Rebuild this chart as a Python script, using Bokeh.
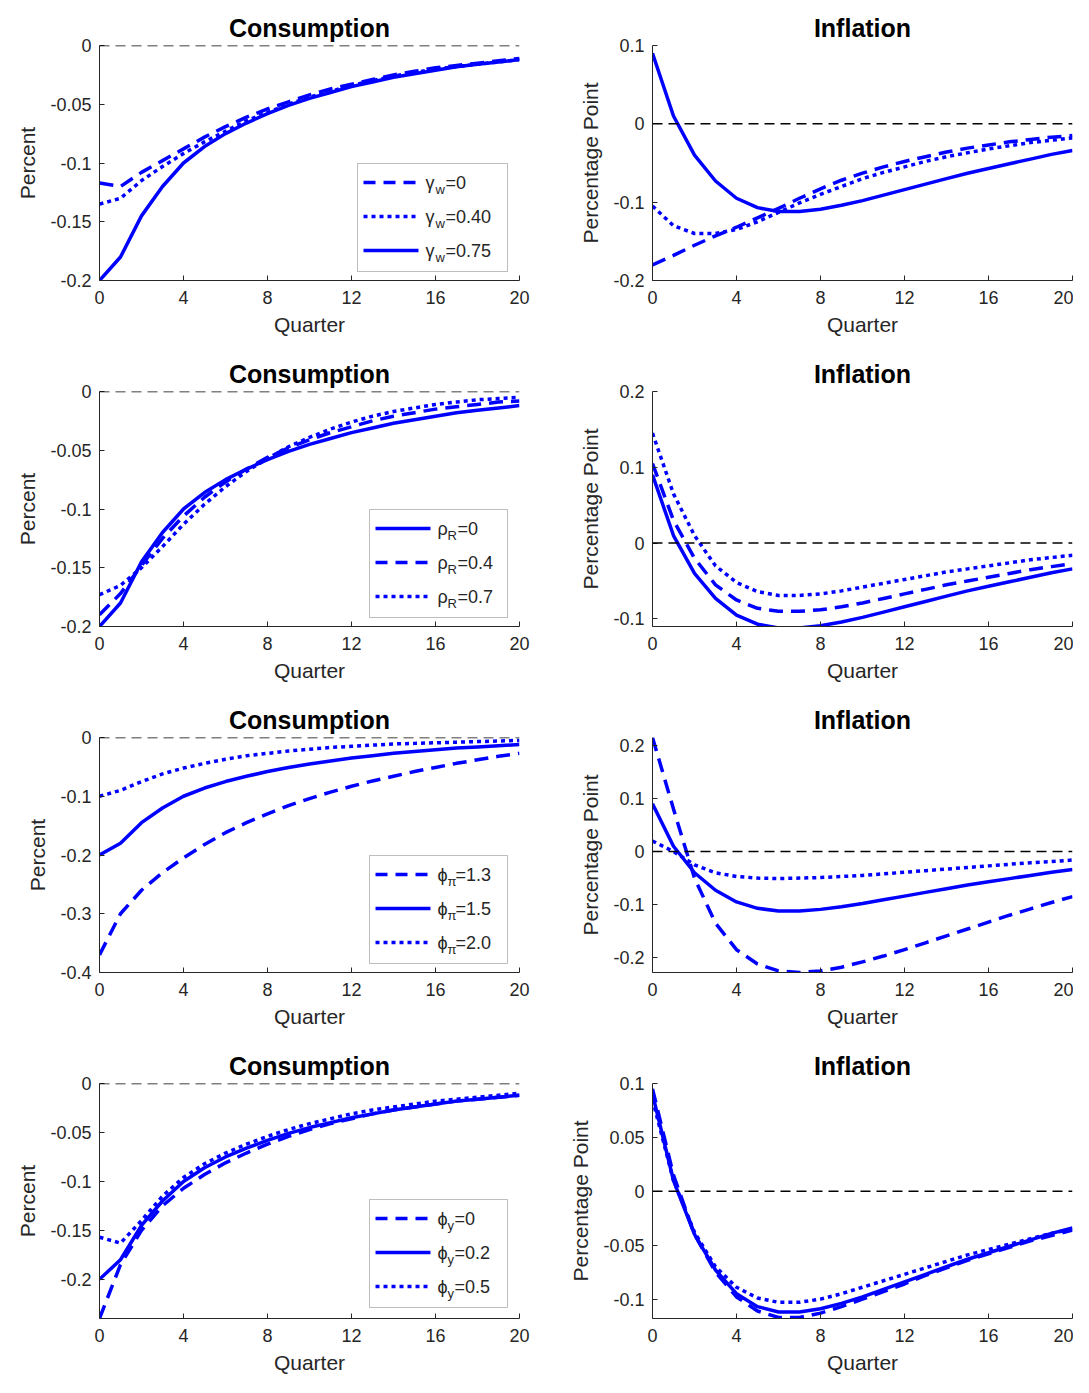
from bokeh.plotting import figure
from bokeh.layouts import gridplot
from bokeh.models import Range1d, FixedTicker, Span, Label, Arrow, BoxAnnotation
from bokeh.embed import file_html
from bokeh.resources import INLINE

quarters = list(range(21))

# baseline (solid in most panels)
c_base = [-0.2, -0.18, -0.145, -0.12, -0.1, -0.086, -0.075, -0.066, -0.058, -0.051, -0.045,
          -0.04, -0.035, -0.031, -0.027, -0.024, -0.021, -0.018, -0.016, -0.014, -0.012]
pi_base = [0.09, 0.01, -0.04, -0.073, -0.095, -0.107, -0.112, -0.112, -0.109, -0.104, -0.098,
           -0.091, -0.084, -0.077, -0.07, -0.063, -0.057, -0.051, -0.045, -0.039, -0.034]

# row 1: gamma_w
c_gw0 = [-0.117, -0.12, -0.108, -0.098, -0.088, -0.078, -0.069, -0.061, -0.054, -0.048, -0.042,
         -0.037, -0.033, -0.029, -0.025, -0.022, -0.019, -0.017, -0.015, -0.013, -0.011]
c_gw40 = [-0.135, -0.13, -0.115, -0.103, -0.092, -0.082, -0.073, -0.064, -0.057, -0.05, -0.044,
          -0.039, -0.034, -0.03, -0.026, -0.023, -0.02, -0.018, -0.016, -0.014, -0.012]
pi_gw0 = [-0.18, -0.168, -0.155, -0.143, -0.132, -0.12, -0.108, -0.095, -0.083, -0.072, -0.063,
          -0.055, -0.048, -0.042, -0.036, -0.031, -0.027, -0.023, -0.02, -0.017, -0.015]
pi_gw40 = [-0.105, -0.13, -0.14, -0.14, -0.135, -0.125, -0.113, -0.101, -0.09, -0.08, -0.07,
           -0.062, -0.055, -0.048, -0.042, -0.037, -0.032, -0.028, -0.024, -0.021, -0.018]

# row 2: rho_R
c_r4 = [-0.19, -0.172, -0.148, -0.125, -0.106, -0.09, -0.077, -0.066, -0.056, -0.048, -0.041,
        -0.035, -0.03, -0.025, -0.021, -0.018, -0.015, -0.013, -0.011, -0.009, -0.008]
c_r7 = [-0.173, -0.165, -0.15, -0.132, -0.113, -0.096, -0.081, -0.068, -0.057, -0.047, -0.039,
        -0.032, -0.026, -0.021, -0.017, -0.014, -0.011, -0.009, -0.007, -0.006, -0.005]
pi_r4 = [0.105, 0.03, -0.02, -0.055, -0.075, -0.086, -0.09, -0.09, -0.088, -0.084, -0.079,
         -0.073, -0.067, -0.061, -0.055, -0.05, -0.045, -0.04, -0.035, -0.031, -0.027]
pi_r7 = [0.145, 0.065, 0.01, -0.03, -0.052, -0.064, -0.069, -0.069, -0.067, -0.063, -0.058,
         -0.053, -0.048, -0.043, -0.038, -0.034, -0.03, -0.026, -0.022, -0.019, -0.016]

# row 3: phi_pi
c_p13 = [-0.37, -0.3, -0.26, -0.23, -0.205, -0.182, -0.162, -0.145, -0.13, -0.116, -0.104,
         -0.093, -0.083, -0.074, -0.066, -0.058, -0.051, -0.044, -0.038, -0.032, -0.027]
c_p20 = [-0.1, -0.09, -0.075, -0.062, -0.052, -0.044, -0.037, -0.031, -0.027, -0.023, -0.02,
         -0.017, -0.015, -0.013, -0.011, -0.01, -0.009, -0.008, -0.007, -0.006, -0.005]
pi_p13 = [0.215, 0.08, -0.05, -0.135, -0.185, -0.212, -0.225, -0.228, -0.225, -0.218, -0.208,
          -0.197, -0.185, -0.172, -0.159, -0.146, -0.133, -0.12, -0.108, -0.096, -0.085]
pi_p20 = [0.02, 0.0, -0.025, -0.04, -0.047, -0.05, -0.051, -0.05, -0.049, -0.047, -0.045,
          -0.042, -0.039, -0.036, -0.033, -0.03, -0.027, -0.024, -0.021, -0.019, -0.016]

# row 4: phi_y
c_y0 = [-0.24, -0.185, -0.15, -0.125, -0.107, -0.093, -0.081, -0.071, -0.062, -0.054, -0.047,
        -0.041, -0.036, -0.031, -0.027, -0.024, -0.021, -0.018, -0.016, -0.014, -0.012]
c_y5 = [-0.157, -0.163, -0.14, -0.115, -0.096, -0.082, -0.071, -0.062, -0.054, -0.047, -0.041,
        -0.036, -0.031, -0.027, -0.024, -0.021, -0.018, -0.016, -0.014, -0.012, -0.01]
pi_y0 = [0.095, 0.015, -0.04, -0.075, -0.098, -0.111, -0.117, -0.117, -0.113, -0.107, -0.1,
         -0.093, -0.086, -0.078, -0.071, -0.064, -0.058, -0.052, -0.046, -0.041, -0.036]
pi_y5 = [0.085, 0.01, -0.038, -0.07, -0.089, -0.099, -0.103, -0.103, -0.1, -0.095, -0.089,
         -0.083, -0.077, -0.071, -0.065, -0.059, -0.054, -0.049, -0.044, -0.039, -0.035]

x_ticks = [0, 4, 8, 12, 16, 20]
BLUE = "#0000ff"
INK = "#262626"
FONT = "Liberation Sans"
DASH = {"solid": "solid", "dashed": "14 8", "dotted": "4 4"}
FW, FH = 420, 235


def tick_label(v):
    if v == 0:
        return "0"
    return ("%.3f" % v).rstrip("0").rstrip(".")


def make_panel(title, ylabel, yr, yticks, series, left):
    p = figure(frame_width=FW, frame_height=FH, output_backend="svg", toolbar_location=None,
               x_range=Range1d(0, 20), y_range=Range1d(*yr),
               min_border_left=99, min_border_right=34 if left else 1,
               min_border_top=45, min_border_bottom=66)
    p.title.text = title
    p.title.align = "center"
    p.title.text_font = FONT
    p.title.text_font_size = "25px"
    p.title.text_font_style = "bold"
    p.title.text_color = "black"
    p.title.standoff = 8
    p.outline_line_color = None
    p.grid.visible = False
    p.xaxis.ticker = FixedTicker(ticks=x_ticks)
    p.yaxis.ticker = FixedTicker(ticks=yticks)
    p.yaxis.major_label_overrides = {t: tick_label(t) for t in yticks}
    p.xaxis.axis_label = "Quarter"
    p.yaxis.axis_label = ylabel
    for ax in (p.xaxis, p.yaxis):
        ax.axis_label_text_font = FONT
        ax.axis_label_text_font_size = "21px"
        ax.axis_label_text_font_style = "normal"
        ax.axis_label_text_color = INK
        ax.major_label_text_font = FONT
        ax.major_label_text_font_size = "18px"
        ax.major_label_text_color = INK
        ax.major_tick_in = 5
        ax.major_tick_out = 0
        ax.minor_tick_line_color = None
        ax.axis_line_color = INK
        ax.major_tick_line_color = INK
    p.xaxis.major_label_standoff = 10
    p.yaxis.major_label_standoff = 8
    p.xaxis.axis_label_standoff = 6
    p.yaxis.axis_label_standoff = 8
    p.add_layout(Span(location=0, dimension="width", line_color="black",
                      line_dash="10 6", line_width=1.5))
    for ys, style in series:
        p.line(quarters, ys, line_color=BLUE, line_width=3.5, line_dash=DASH[style])
    return p


def add_legend(p, yr, box_left, box_top, box_w, items, sub_w):
    # box_left/box_top in pixels relative to the frame's top-left
    def X(px):
        return px / FW * 20

    def Y(py):
        return yr[1] - py / FH * (yr[1] - yr[0])

    box_h = 108
    p.add_layout(BoxAnnotation(left=X(box_left), right=X(box_left + box_w),
                               top=Y(box_top), bottom=Y(box_top + box_h),
                               fill_color="white", fill_alpha=1, line_color=INK,
                               line_width=1, level="overlay"))
    for i, (style, sym, sub, rest) in enumerate(items):
        cy = box_top + 19 + 34 * i
        p.add_layout(Arrow(end=None, x_start=X(box_left + 6), x_end=X(box_left + 61),
                           y_start=Y(cy), y_end=Y(cy), line_color=BLUE, line_width=3.5,
                           line_dash=DASH[style] if style != "dashed" else "12 8",
                           level="overlay"))
        tx = box_left + 68
        p.add_layout(Label(x=X(tx), y=Y(cy), text=sym, text_font=FONT, text_font_size="18px",
                           text_color=INK, text_baseline="middle", level="overlay"))
        p.add_layout(Label(x=X(tx + 10), y=Y(cy + 7), text=sub, text_font=FONT,
                           text_font_size="13px", text_color=INK,
                           text_baseline="middle", level="overlay"))
        p.add_layout(Label(x=X(tx + 10 + sub_w), y=Y(cy), text=rest, text_font=FONT,
                           text_font_size="18px", text_color=INK,
                           text_baseline="middle", level="overlay"))


rows = []

yr = (-0.2, 0)
p = make_panel("Consumption", "Percent", yr, [-0.2, -0.15, -0.1, -0.05, 0],
               [(c_gw0, "dashed"), (c_gw40, "dotted"), (c_base, "solid")], True)
add_legend(p, yr, 258, 118, 150,
           [("dashed", "γ", "w", "=0"), ("dotted", "γ", "w", "=0.40"), ("solid", "γ", "w", "=0.75")], 10)
yr2 = (-0.2, 0.1)
q = make_panel("Inflation", "Percentage Point", yr2, [-0.2, -0.1, 0, 0.1],
               [(pi_gw0, "dashed"), (pi_gw40, "dotted"), (pi_base, "solid")], False)
rows.append([p, q])

yr = (-0.2, 0)
p = make_panel("Consumption", "Percent", yr, [-0.2, -0.15, -0.1, -0.05, 0],
               [(c_base, "solid"), (c_r4, "dashed"), (c_r7, "dotted")], True)
add_legend(p, yr, 270, 118, 138,
           [("solid", "ρ", "R", "=0"), ("dashed", "ρ", "R", "=0.4"), ("dotted", "ρ", "R", "=0.7")], 10)
yr2 = (-0.11, 0.2)
q = make_panel("Inflation", "Percentage Point", yr2, [-0.1, 0, 0.1, 0.2],
               [(pi_base, "solid"), (pi_r4, "dashed"), (pi_r7, "dotted")], False)
rows.append([p, q])

yr = (-0.4, 0)
p = make_panel("Consumption", "Percent", yr, [-0.4, -0.3, -0.2, -0.1, 0],
               [(c_p13, "dashed"), (c_base, "solid"), (c_p20, "dotted")], True)
add_legend(p, yr, 270, 118, 138,
           [("dashed", "ϕ", "π", "=1.3"), ("solid", "ϕ", "π", "=1.5"), ("dotted", "ϕ", "π", "=2.0")], 8)
yr2 = (-0.228, 0.215)
q = make_panel("Inflation", "Percentage Point", yr2, [-0.2, -0.1, 0, 0.1, 0.2],
               [(pi_p13, "dashed"), (pi_base, "solid"), (pi_p20, "dotted")], False)
rows.append([p, q])

yr = (-0.24, 0)
p = make_panel("Consumption", "Percent", yr, [-0.2, -0.15, -0.1, -0.05, 0],
               [(c_y0, "dashed"), (c_base, "solid"), (c_y5, "dotted")], True)
add_legend(p, yr, 270, 116, 138,
           [("dashed", "ϕ", "y", "=0"), ("solid", "ϕ", "y", "=0.2"), ("dotted", "ϕ", "y", "=0.5")], 7)
yr2 = (-0.118, 0.1)
q = make_panel("Inflation", "Percentage Point", yr2, [-0.1, -0.05, 0, 0.05, 0.1],
               [(pi_y0, "dashed"), (pi_base, "solid"), (pi_y5, "dotted")], False)
rows.append([p, q])

grid = gridplot(rows, toolbar_location=None)
open("out.html", "w").write(file_html(grid, INLINE))
